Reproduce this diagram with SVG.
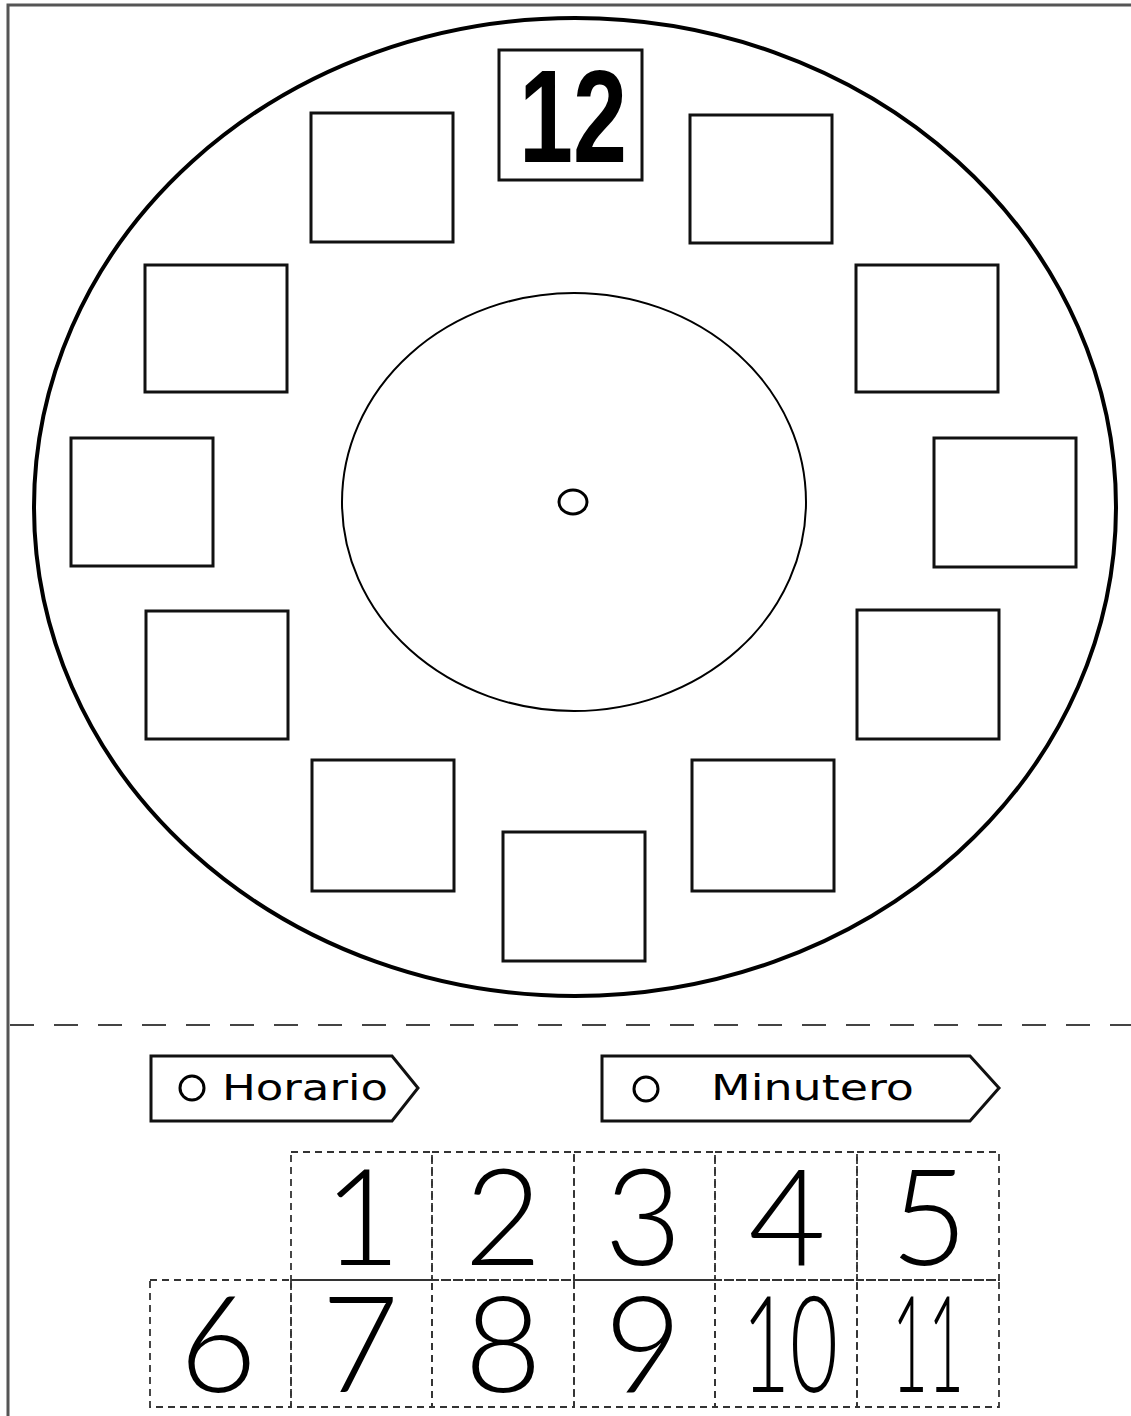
<svg xmlns="http://www.w3.org/2000/svg" width="1131" height="1416" viewBox="0 0 1131 1416">
<style>
.box{fill:#fff;stroke:#111;stroke-width:3}
.cell{fill:none;stroke:#333;stroke-width:1.8;stroke-dasharray:7 5}
.dig{font-family:Lato,"DejaVu Sans",sans-serif;font-weight:300;font-size:134px;fill:#000;text-anchor:middle}
.lbl{font-family:"DejaVu Sans",sans-serif;font-size:36px;fill:#000}
.tag{fill:#fff;stroke:#111;stroke-width:3}
</style>
<rect width="1131" height="1416" fill="#fff"/>
<g id="border">
<path d="M8 1416 V5 H1131" fill="none" stroke="#555" stroke-width="3"/>
</g>
<g id="clock">
<ellipse cx="575" cy="507" rx="541" ry="489" fill="#fff" stroke="#000" stroke-width="4"/>
<ellipse cx="574" cy="502" rx="232" ry="209" fill="#fff" stroke="#000" stroke-width="2"/>
<ellipse cx="573" cy="502" rx="14" ry="12" fill="#fff" stroke="#000" stroke-width="3"/>
</g>
<g id="box12"><rect class="box" x="499" y="50" width="143" height="130"/><text x="573" y="162" font-family="'Liberation Sans',Arial,sans-serif" font-weight="bold" font-size="131" text-anchor="middle" textLength="108" lengthAdjust="spacingAndGlyphs">12</text></g>
<g id="box1"><rect class="box" x="690" y="115" width="142" height="128"/></g>
<g id="box2"><rect class="box" x="856" y="265" width="142" height="127"/></g>
<g id="box3"><rect class="box" x="934" y="438" width="142" height="129"/></g>
<g id="box4"><rect class="box" x="857" y="610" width="142" height="129"/></g>
<g id="box5"><rect class="box" x="692" y="760" width="142" height="131"/></g>
<g id="box6"><rect class="box" x="503" y="832" width="142" height="129"/></g>
<g id="box7"><rect class="box" x="312" y="760" width="142" height="131"/></g>
<g id="box8"><rect class="box" x="146" y="611" width="142" height="128"/></g>
<g id="box9"><rect class="box" x="71" y="438" width="142" height="128"/></g>
<g id="box10"><rect class="box" x="145" y="265" width="142" height="127"/></g>
<g id="box11"><rect class="box" x="311" y="113" width="142" height="129"/></g>
<g id="cutline"><line x1="10" y1="1025" x2="1131" y2="1025" stroke="#444" stroke-width="2" stroke-dasharray="24 20"/></g>
<g id="horario">
<path class="tag" d="M151 1056 H392 L418 1088 L392 1121 H151 Z"/>
<circle cx="192" cy="1088" r="12" fill="none" stroke="#000" stroke-width="3"/>
<text class="lbl" x="222" y="1100" textLength="166" lengthAdjust="spacingAndGlyphs">Horario</text>
</g>
<g id="minutero">
<path class="tag" d="M602 1056 H970 L999 1088 L970 1121 H602 Z"/>
<circle cx="646" cy="1089" r="12" fill="none" stroke="#000" stroke-width="3"/>
<text class="lbl" x="711" y="1100" textLength="203" lengthAdjust="spacingAndGlyphs">Minutero</text>
</g>
<g id="cells">
<rect class="cell" x="291" y="1152" width="141" height="128"/>
<rect class="cell" x="432" y="1152" width="142" height="128"/>
<rect class="cell" x="574" y="1152" width="141" height="128"/>
<rect class="cell" x="715" y="1152" width="142" height="128"/>
<rect class="cell" x="857" y="1152" width="142" height="128"/>
<rect class="cell" x="150" y="1280" width="141" height="127"/>
<rect class="cell" x="291" y="1280" width="141" height="127"/>
<rect class="cell" x="432" y="1280" width="142" height="127"/>
<rect class="cell" x="574" y="1280" width="141" height="127"/>
<rect class="cell" x="715" y="1280" width="142" height="127"/>
<rect class="cell" x="857" y="1280" width="142" height="127"/>
</g>
<g id="digits">
<text class="dig" x="362" y="1265">1</text>
<text class="dig" x="503" y="1265">2</text>
<text class="dig" x="643" y="1265">3</text>
<text class="dig" x="787" y="1265">4</text>
<text class="dig" x="929" y="1265">5</text>
<text class="dig" x="218" y="1392">6</text>
<text class="dig" x="360" y="1392">7</text>
<text class="dig" x="503" y="1392">8</text>
<text class="dig" x="643" y="1392">9</text>
<text class="dig" x="790" y="1392" textLength="96" lengthAdjust="spacingAndGlyphs">10</text>
<text class="dig" x="928" y="1392" textLength="72" lengthAdjust="spacingAndGlyphs">11</text>
</g>
</svg>
